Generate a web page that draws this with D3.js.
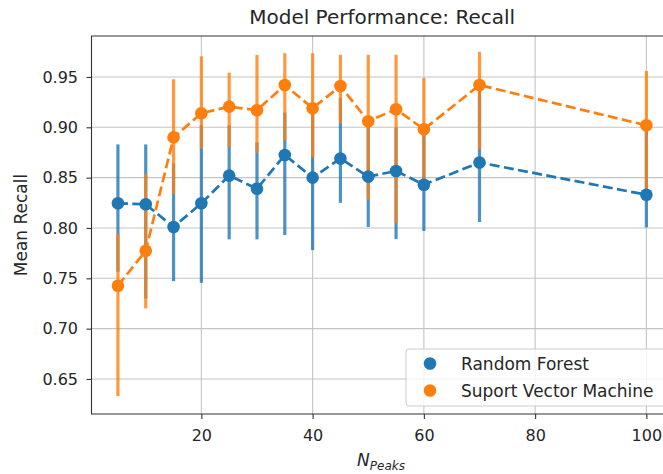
<!DOCTYPE html>
<html>
<head>
<meta charset="utf-8">
<script src="https://cdn.jsdelivr.net/npm/d3@7"></script>
<style>
  body { margin: 0; background: #fff; }
  text { font-family: "DejaVu Sans", sans-serif; fill: #262626; }
</style>
</head>
<body>
<svg id="chart" width="663" height="474"></svg>
<script>
// Number of peaks used as features
const nPeaks = [5, 10, 15, 20, 25, 30, 35, 40, 45, 50, 55, 60, 70, 100];

// Random Forest: mean recall and the lower / upper ends of its error bars
const rfMean = [0.8245, 0.8235, 0.801, 0.8245, 0.852, 0.839, 0.8725, 0.850, 0.869, 0.851, 0.8566, 0.843, 0.865, 0.833];
const rfLow  = [0.7565, 0.730, 0.7472, 0.7455, 0.7887, 0.7887, 0.793, 0.778, 0.825, 0.801, 0.789, 0.797, 0.806, 0.8006];
const rfHigh = [0.883, 0.883, 0.864, 0.902, 0.902, 0.885, 0.9145, 0.915, 0.929, 0.902, 0.900, 0.897, 0.940, 0.900];

// Support Vector Machine: mean recall and error bar ends
const svmMean = [0.7426, 0.7774, 0.890, 0.914, 0.9205, 0.917, 0.942, 0.919, 0.941, 0.906, 0.918, 0.898, 0.942, 0.902];
const svmLow  = [0.633, 0.720, 0.834, 0.879, 0.880, 0.8747, 0.887, 0.870, 0.904, 0.8285, 0.805, 0.848, 0.878, 0.830];
const svmHigh = [0.7946, 0.8536, 0.9477, 0.9705, 0.9543, 0.9719, 0.9736, 0.9736, 0.972, 0.972, 0.972, 0.949, 0.975, 0.956];

const seriesNames = ["Random Forest", "Suport Vector Machine"];
const seriesColors = ["#1f77b4", "#ff7f0e"];

const xTicks = [20, 40, 60, 80, 100];
const yTicks = [0.65, 0.70, 0.75, 0.80, 0.85, 0.90, 0.95];

const series = [
  { name: seriesNames[0], color: seriesColors[0], mean: rfMean, low: rfLow, high: rfHigh },
  { name: seriesNames[1], color: seriesColors[1], mean: svmMean, low: svmLow, high: svmHigh }
].map(s => ({ ...s, pts: nPeaks.map((n, i) => ({ n, m: s.mean[i], lo: s.low[i], hi: s.high[i] })) }));

const svg = d3.select("#chart");
const plotL = 91.5, plotR = 672.8, plotT = 36, plotB = 414;

const x = d3.scaleLinear().domain([0.25, 104.75]).range([plotL, plotR]);
const y = d3.scaleLinear().domain([0.6152, 0.9907]).range([plotB, plotT]);

// grid
const grid = svg.append("g");
grid.selectAll("line.gx").data(xTicks).join("line")
  .attr("x1", d => x(d)).attr("x2", d => x(d)).attr("y1", plotT).attr("y2", plotB)
  .attr("stroke", "#c4c4c4").attr("stroke-width", 1.1);
grid.selectAll("line.gy").data(yTicks).join("line")
  .attr("x1", plotL).attr("x2", plotR).attr("y1", d => y(d)).attr("y2", d => y(d))
  .attr("stroke", "#c4c4c4").attr("stroke-width", 1.1);

// error bars for both series first
series.forEach(s => {
  svg.append("g").selectAll("line").data(s.pts).join("line")
    .attr("x1", d => x(d.n)).attr("x2", d => x(d.n))
    .attr("y1", d => y(d.lo)).attr("y2", d => y(d.hi))
    .attr("stroke", s.color).attr("stroke-opacity", 0.8).attr("stroke-width", 3.2);
});

// dashed lines and markers
const line = d3.line().x(d => x(d.n)).y(d => y(d.m));
series.forEach(s => {
  svg.append("path").datum(s.pts).attr("d", line)
    .attr("fill", "none").attr("stroke", s.color).attr("stroke-width", 2.7)
    .attr("stroke-dasharray", "10,4.4");
  svg.append("g").selectAll("circle").data(s.pts).join("circle")
    .attr("cx", d => x(d.n)).attr("cy", d => y(d.m)).attr("r", 6.3)
    .attr("fill", s.color);
});

// axes
const xAxis = svg.append("g").attr("transform", `translate(0,${plotB})`)
  .call(d3.axisBottom(x).tickValues(xTicks).tickSize(5).tickPadding(11).tickFormat(d3.format("d")));
const yAxis = svg.append("g").attr("transform", `translate(${plotL},0)`)
  .call(d3.axisLeft(y).tickValues(yTicks).tickSize(5).tickPadding(8.5).tickFormat(d3.format(".2f")));
[xAxis, yAxis].forEach(a => {
  a.select(".domain").remove();
  a.selectAll(".tick line").attr("stroke", "#333").attr("stroke-width", 1.1);
  a.selectAll(".tick text").attr("font-size", 16).attr("font-family", "DejaVu Sans").attr("fill", "#262626");
});

// spines (right one falls beyond the canvas)
svg.append("path")
  .attr("d", `M${plotR},${plotT}H${plotL}V${plotB}H${plotR}V${plotT}`)
  .attr("fill", "none").attr("stroke", "#333").attr("stroke-width", 1.1);

// title and axis labels
svg.append("text").attr("x", (plotL + plotR) / 2).attr("y", 24).attr("text-anchor", "middle")
  .attr("font-size", 20).text("Model Performance: Recall");

svg.append("text").attr("transform", `translate(27,${(plotT + plotB) / 2}) rotate(-90)`)
  .attr("text-anchor", "middle").attr("font-size", 17).text("Mean Recall");

const xl = svg.append("text").attr("x", 381).attr("y", 466).attr("text-anchor", "middle");
xl.append("tspan").attr("font-size", 17).attr("font-style", "italic").text("N");
xl.append("tspan").attr("font-size", 12).attr("font-style", "italic").attr("dy", 4).text("Peaks");

// legend
const lg = svg.append("g").attr("transform", "translate(406,349)");
lg.append("rect").attr("width", 260).attr("height", 57).attr("rx", 3)
  .attr("fill", "#fff").attr("fill-opacity", 0.8).attr("stroke", "#cccccc").attr("stroke-width", 1);
series.forEach((s, i) => {
  const row = lg.append("g").attr("transform", `translate(0,${14.5 + i * 27})`);
  row.append("circle").attr("cx", 24).attr("cy", 0).attr("r", 6.3).attr("fill", s.color);
  row.append("text").attr("x", 55).attr("y", 0).attr("dy", "0.36em").attr("font-size", 17).text(s.name);
});
</script>
</body>
</html>
